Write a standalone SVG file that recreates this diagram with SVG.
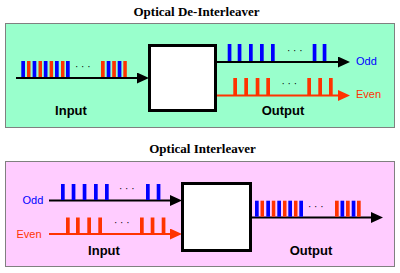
<svg xmlns="http://www.w3.org/2000/svg" width="400" height="273" viewBox="0 0 400 273">
<style>
.title{font-family:"Liberation Serif","Times New Roman",serif;font-weight:bold;font-size:13px;fill:#000;text-anchor:middle}
.lbl{font-family:"Liberation Sans",Arial,sans-serif;font-weight:bold;font-size:13px;fill:#000;text-anchor:middle}
.sm{font-family:"Liberation Sans",Arial,sans-serif;font-size:11px}
.dots{font-family:"Liberation Sans",Arial,sans-serif;font-size:10px;fill:#000}
.box{fill:#fff;stroke:#000;stroke-width:3}
.b{fill:#0000ff}
.r{fill:#ff3300}
.lk{stroke:#000;stroke-width:2;fill:none}
.lr{stroke:#ff3300;stroke-width:2;fill:none}
</style>
<defs>
<marker id="ak" markerUnits="userSpaceOnUse" markerWidth="13" markerHeight="12" refX="6" refY="5.5" orient="auto"><path d="M0,0 L12,5.5 L0,11 z" fill="#000"/></marker>
<marker id="ar" markerUnits="userSpaceOnUse" markerWidth="13" markerHeight="12" refX="6" refY="5.5" orient="auto"><path d="M0,0 L12,5.5 L0,11 z" fill="#ff3300"/></marker>
</defs>
<rect width="400" height="273" fill="#fff"/>
<text class="title" x="196.5" y="16">Optical De-Interleaver</text>
<rect x="5.5" y="23.5" width="389" height="104" fill="#99ffcc" stroke="#808080"/>
<text class="title" x="202.5" y="153">Optical Interleaver</text>
<rect x="5.5" y="161.5" width="389" height="105" fill="#ffccff" stroke="#808080"/>

<g id="connectors">
<line class="lk" x1="16" y1="78" x2="143" y2="78" marker-end="url(#ak)"/>
<line class="lk" x1="216" y1="62" x2="344" y2="62" marker-end="url(#ak)"/>
<line class="lr" x1="216" y1="95.5" x2="344" y2="95.5" marker-end="url(#ar)"/>
<line class="lk" x1="49" y1="200.5" x2="176" y2="200.5" marker-end="url(#ak)"/>
<line class="lr" x1="49" y1="234" x2="176" y2="234" marker-end="url(#ar)"/>
<line class="lk" x1="251" y1="217.5" x2="377" y2="217.5" marker-end="url(#ak)"/>
</g>

<g id="deinterleaver">
<rect class="box" x="149.5" y="45.5" width="66" height="65"/>
</g>
<g id="interleaver">
<rect class="box" x="182.5" y="183.5" width="68" height="67"/>
</g>

<g id="input-top">
<rect class="b" x="21.3" y="61" width="3.7" height="16"/>
<rect class="r" x="27" y="61" width="3.5" height="16"/>
<rect class="b" x="32.6" y="61" width="3.7" height="16"/>
<rect class="r" x="38.5" y="61" width="3.5" height="16"/>
<rect class="b" x="43.8" y="61" width="3.7" height="16"/>
<rect class="r" x="49.6" y="61" width="3.5" height="16"/>
<rect class="b" x="55" y="61" width="3.7" height="16"/>
<rect class="r" x="61" y="61" width="3.5" height="16"/>
<rect class="b" x="66" y="61" width="3.7" height="16"/>
<text class="dots" x="75" y="70">· · ·</text>
<rect class="r" x="101" y="61" width="3.7" height="16"/>
<rect class="b" x="106.7" y="61" width="3.7" height="16"/>
<rect class="r" x="112.2" y="61" width="3.7" height="16"/>
<rect class="b" x="117.7" y="61" width="3.7" height="16"/>
<rect class="r" x="123.3" y="61" width="3.5" height="16"/>
<text class="lbl" x="71" y="115">Input</text>
</g>

<g id="output-top">
<rect class="b" x="227.7" y="44" width="3.7" height="17"/>
<rect class="b" x="237.7" y="44" width="3.7" height="17"/>
<rect class="b" x="249" y="44" width="3.7" height="17"/>
<rect class="b" x="260" y="44" width="3.7" height="17"/>
<rect class="b" x="271" y="44" width="3.7" height="17"/>
<text class="dots" x="287" y="54">· · ·</text>
<rect class="b" x="312.7" y="44" width="3.7" height="17"/>
<rect class="b" x="322.7" y="44" width="3.7" height="17"/>
<text class="sm" x="356" y="65" fill="#0000ff">Odd</text>
<rect class="r" x="233.3" y="78" width="3.7" height="17"/>
<rect class="r" x="244.3" y="78" width="3.7" height="17"/>
<rect class="r" x="255.7" y="78" width="3.7" height="17"/>
<rect class="r" x="266.3" y="78" width="3.7" height="17"/>
<text class="dots" x="281.5" y="87">· · ·</text>
<rect class="r" x="307.3" y="78" width="3.7" height="17"/>
<rect class="r" x="318.3" y="78" width="3.7" height="17"/>
<rect class="r" x="329" y="78" width="3.7" height="17"/>
<text class="sm" x="356" y="98" fill="#ff3300">Even</text>
<text class="lbl" x="283" y="115">Output</text>
</g>

<g id="input-bottom">
<text class="sm" x="22.5" y="204" fill="#0000ff">Odd</text>
<rect class="b" x="61" y="184" width="3.7" height="16"/>
<rect class="b" x="71.7" y="184" width="3.7" height="16"/>
<rect class="b" x="82.7" y="184" width="3.7" height="16"/>
<rect class="b" x="94" y="184" width="3.7" height="16"/>
<rect class="b" x="105" y="184" width="3.7" height="16"/>
<text class="dots" x="119" y="192">· · ·</text>
<rect class="b" x="146" y="184" width="3.7" height="16"/>
<rect class="b" x="156.7" y="184" width="3.7" height="16"/>
<text class="sm" x="16.5" y="238" fill="#ff3300">Even</text>
<rect class="r" x="66" y="217.5" width="3.7" height="16"/>
<rect class="r" x="76" y="217.5" width="3.7" height="16"/>
<rect class="r" x="87.3" y="217.5" width="3.7" height="16"/>
<rect class="r" x="98.3" y="217.5" width="3.7" height="16"/>
<text class="dots" x="114" y="226">· · ·</text>
<rect class="r" x="140" y="217.5" width="3.7" height="16"/>
<rect class="r" x="150.7" y="217.5" width="3.7" height="16"/>
<rect class="r" x="161.7" y="217.5" width="3.7" height="16"/>
<text class="lbl" x="104" y="255">Input</text>
</g>

<g id="output-bottom">
<rect class="b" x="255" y="200.7" width="3.7" height="16"/>
<rect class="r" x="260.5" y="200.7" width="3.5" height="16"/>
<rect class="b" x="266.3" y="200.7" width="3.7" height="16"/>
<rect class="r" x="271.8" y="200.7" width="3.5" height="16"/>
<rect class="b" x="277.3" y="200.7" width="3.7" height="16"/>
<rect class="r" x="283" y="200.7" width="3.5" height="16"/>
<rect class="b" x="288.3" y="200.7" width="3.7" height="16"/>
<rect class="r" x="294" y="200.7" width="3.5" height="16"/>
<rect class="b" x="299.3" y="200.7" width="3.7" height="16"/>
<text class="dots" x="308" y="210">· · ·</text>
<rect class="r" x="335" y="200.7" width="3.7" height="16"/>
<rect class="b" x="340.5" y="200.7" width="3.7" height="16"/>
<rect class="r" x="346" y="200.7" width="3.7" height="16"/>
<rect class="b" x="351.7" y="200.7" width="3.7" height="16"/>
<rect class="r" x="357" y="200.7" width="3.7" height="16"/>
<text class="lbl" x="311" y="255">Output</text>
</g>
</svg>
